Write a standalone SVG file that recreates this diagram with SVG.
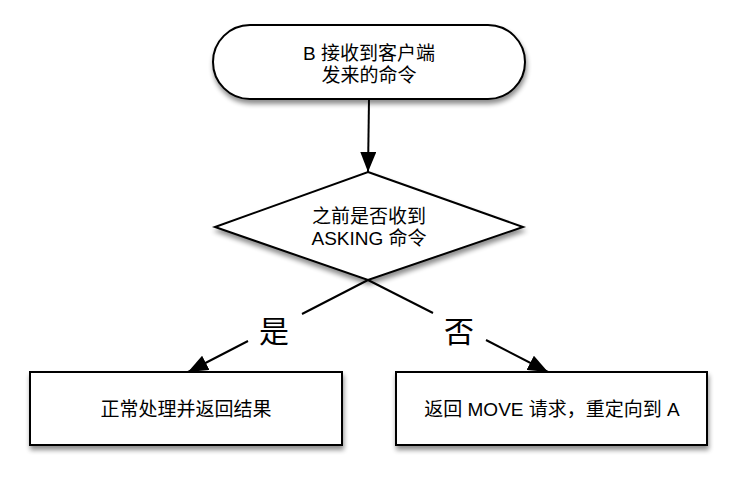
<svg xmlns="http://www.w3.org/2000/svg" width="736" height="480" viewBox="0 0 736 480">
<style>
.shape{fill:#fff;stroke:#000;stroke-width:2}
.t{font-family:"Liberation Sans","Noto Sans CJK SC",sans-serif;font-size:19px;fill:#000;text-anchor:middle;dominant-baseline:central}
.lbl{font-family:"Noto Sans CJK SC","Liberation Sans",sans-serif;font-size:30px;fill:#000;text-anchor:middle;dominant-baseline:central}
.c{fill:none;stroke:#000;stroke-width:2}
</style>
<defs>
<filter id="sh" x="-10%" y="-20%" width="130%" height="160%">
<feGaussianBlur in="SourceAlpha" stdDeviation="2.5"/>
<feOffset dx="1" dy="4" result="b"/>
<feComponentTransfer><feFuncA type="linear" slope="0.45"/></feComponentTransfer>
<feMerge><feMergeNode/><feMergeNode in="SourceGraphic"/></feMerge>
</filter>
<marker id="ah" markerUnits="userSpaceOnUse" markerWidth="22" markerHeight="16" refX="20" refY="8" orient="auto">
<path d="M0,0 L20,8 L0,16 z" fill="#000"/>
</marker>
</defs>
<rect width="736" height="480" fill="#fff"/>
<g id="start">
<rect class="shape" filter="url(#sh)" x="213" y="25" width="312" height="74" rx="37" ry="37"/>
<text class="t"><tspan x="369" y="53">B 接收到客户端</tspan><tspan x="369" y="75">发来的命令</tspan></text>
</g>
<g id="decision">
<polygon class="shape" filter="url(#sh)" points="368,172 523,227 368,280 215,227"/>
<text class="t"><tspan x="369" y="216">之前是否收到</tspan><tspan x="369" y="238">ASKING 命令</tspan></text>
</g>
<g id="yes-box">
<rect class="shape" filter="url(#sh)" x="30" y="372" width="312" height="73"/>
<text class="t" x="186" y="409">正常处理并返回结果</text>
</g>
<g id="no-box">
<rect class="shape" filter="url(#sh)" x="396" y="372" width="311" height="73"/>
<text class="t" x="552" y="409">返回 MOVE 请求，重定向到 A</text>
</g>
<g id="connectors">
<line class="c" x1="369" y1="99" x2="368" y2="172" marker-end="url(#ah)"/>
<line class="c" x1="368" y1="280" x2="302" y2="314"/>
<line class="c" x1="248" y1="341" x2="188" y2="372" marker-end="url(#ah)"/>
<text class="lbl" x="274" y="329">是</text>
<line class="c" x1="368" y1="280" x2="433" y2="313"/>
<line class="c" x1="486" y1="340" x2="548" y2="372" marker-end="url(#ah)"/>
<text class="lbl" x="459" y="329">否</text>
</g>
</svg>
